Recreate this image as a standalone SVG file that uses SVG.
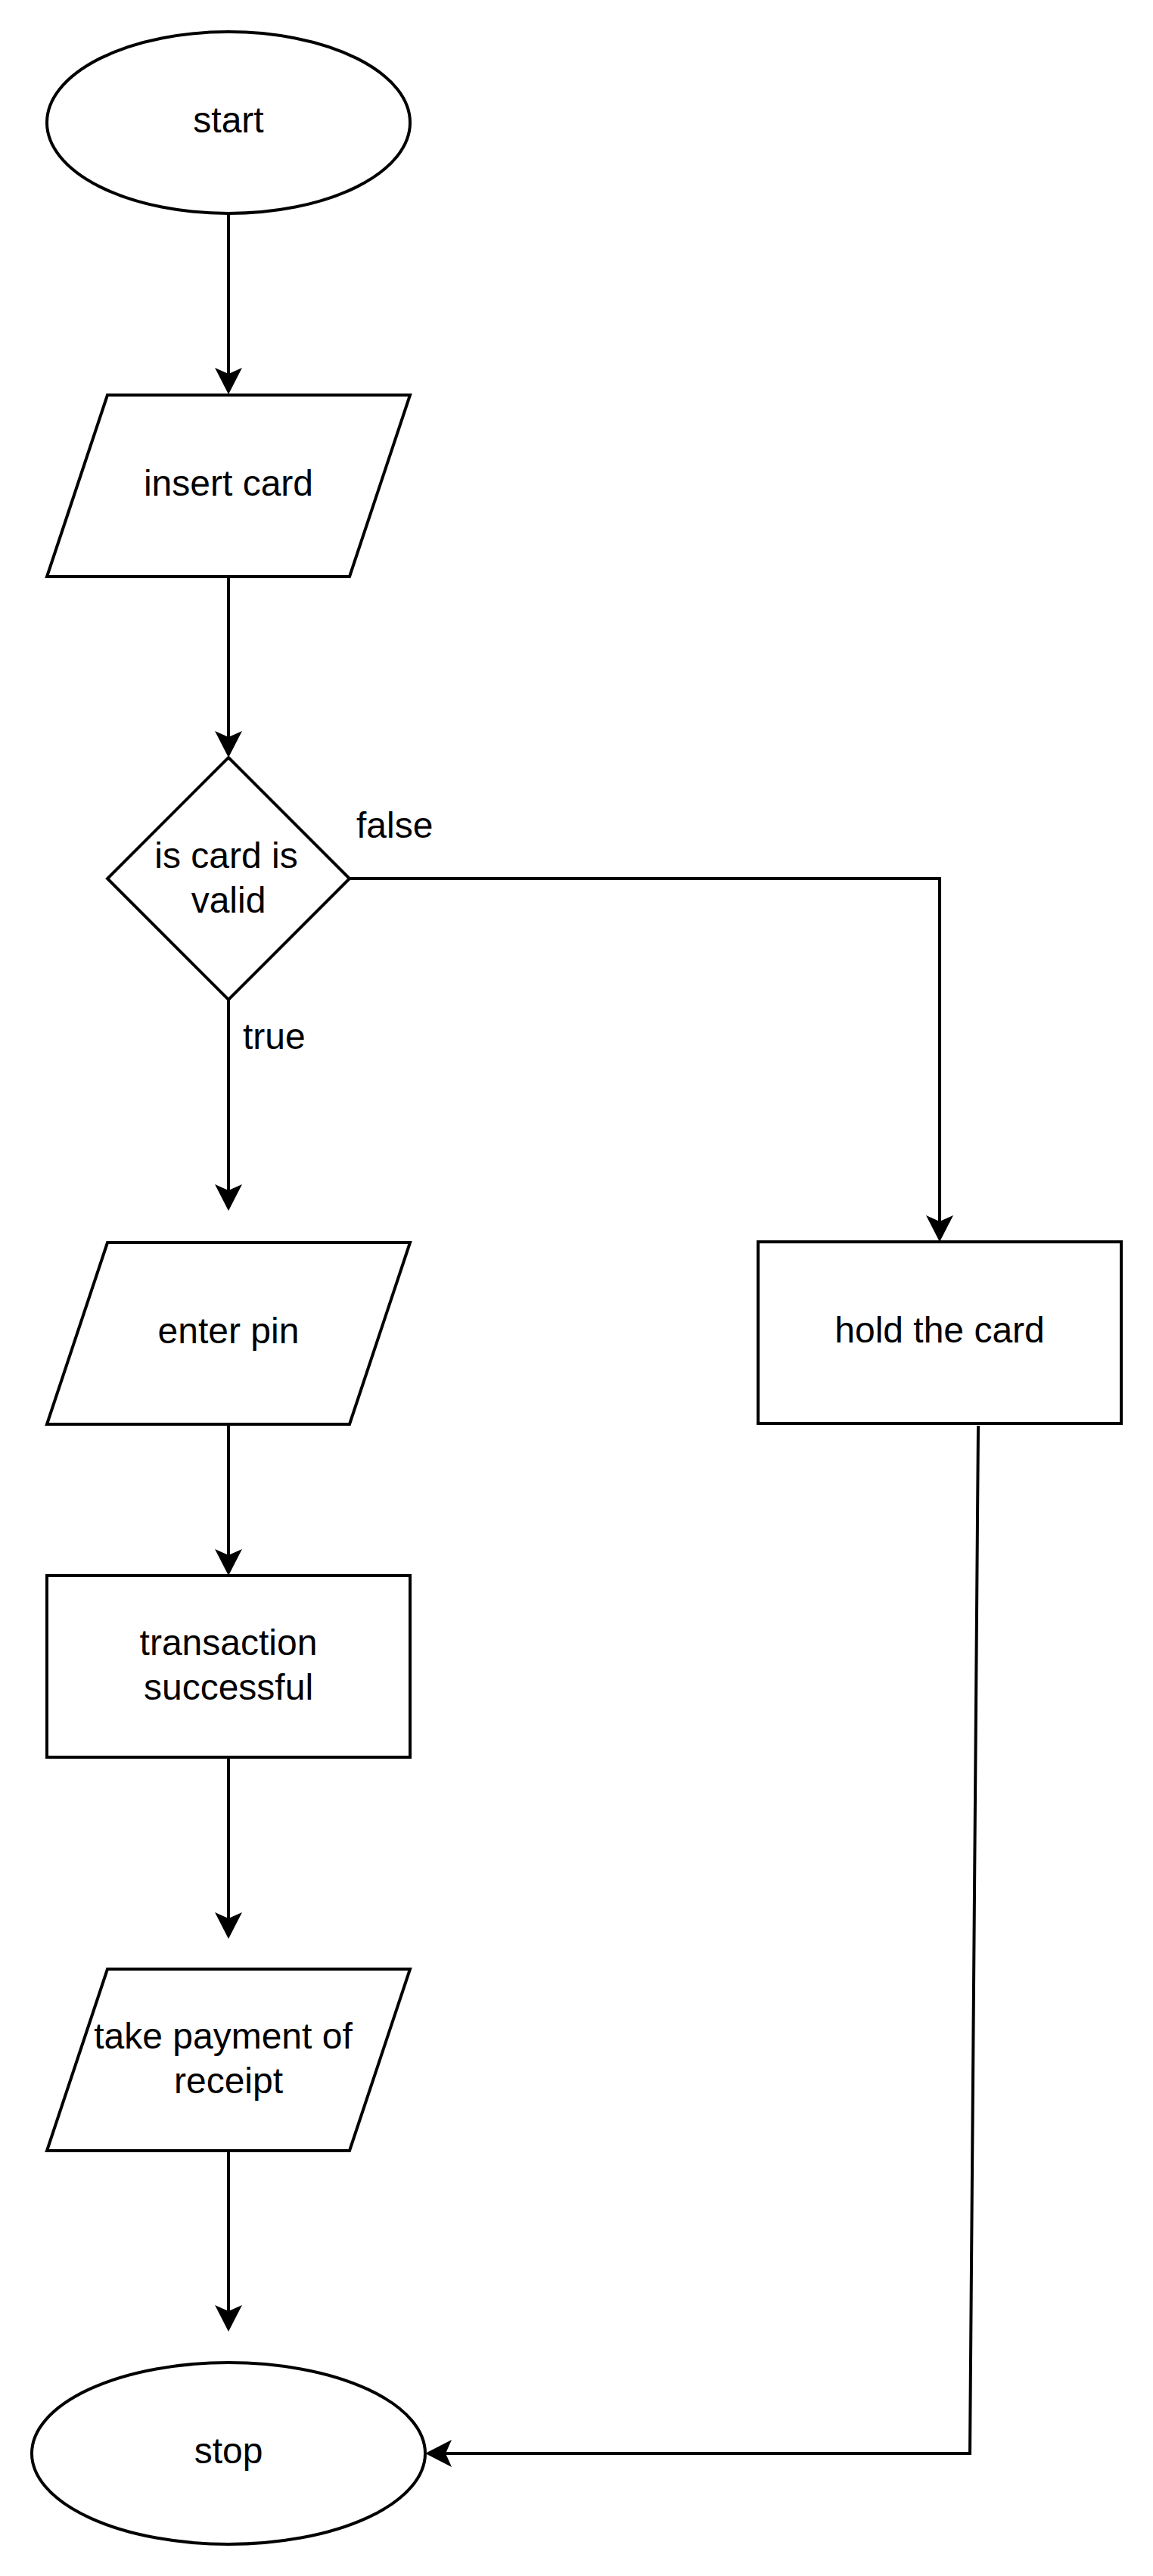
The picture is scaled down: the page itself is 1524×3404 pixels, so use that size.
<svg xmlns="http://www.w3.org/2000/svg" width="1524" height="3404" viewBox="0 0 1524 3404">
<style>
.shape{fill:#ffffff;stroke:#000000;stroke-width:4}
.lbl{font-family:"Liberation Sans",Arial,sans-serif;font-size:48px;fill:#000000;text-anchor:middle}
.elbl{font-family:"Liberation Sans",Arial,sans-serif;font-size:48px;fill:#000000}
.conn{fill:none;stroke:#000000;stroke-width:4}
</style>
<defs>
<marker id="arr" markerUnits="userSpaceOnUse" markerWidth="36" markerHeight="36" refX="8" refY="18" orient="auto" overflow="visible">
<path d="M35,18 L0,0 L8,18 L0,36 Z" fill="#000000"/>
</marker>
</defs>
<rect width="1524" height="3404" fill="#ffffff"/>
<g id="connectors">
<path class="conn" d="M302,282 L302,494" marker-end="url(#arr)"/>
<path class="conn" d="M302,762 L302,974" marker-end="url(#arr)"/>
<path class="conn" d="M302,1321 L302,1573" marker-end="url(#arr)"/>
<path class="conn" d="M462,1161 L1242,1161 L1242,1614" marker-end="url(#arr)"/>
<path class="conn" d="M302,1882 L302,2055" marker-end="url(#arr)"/>
<path class="conn" d="M302,2322 L302,2535" marker-end="url(#arr)"/>
<path class="conn" d="M302,2842 L302,3054" marker-end="url(#arr)"/>
<path class="conn" d="M1293,1884 L1282,3242 L589,3242" marker-end="url(#arr)"/>
<text class="elbl" x="471" y="1107">false</text>
<text class="elbl" x="321" y="1386">true</text>
</g>
<g id="start">
<ellipse class="shape" cx="302" cy="162" rx="240" ry="120"/>
<text class="lbl" x="302" y="175">start</text>
</g>
<g id="insert-card">
<path class="shape" d="M142,522 L542,522 L462,762 L62,762 Z"/>
<text class="lbl" x="302" y="655">insert card</text>
</g>
<g id="is-card-valid">
<path class="shape" d="M302,1001 L462,1161 L302,1321 L142,1161 Z"/>
<text class="lbl" x="299" y="1147">is card is</text>
<text class="lbl" x="302" y="1206">valid</text>
</g>
<g id="enter-pin">
<path class="shape" d="M142,1642 L542,1642 L462,1882 L62,1882 Z"/>
<text class="lbl" x="302" y="1775">enter pin</text>
</g>
<g id="hold-card">
<rect class="shape" x="1002" y="1641" width="480" height="240"/>
<text class="lbl" x="1242" y="1774">hold the card</text>
</g>
<g id="transaction">
<rect class="shape" x="62" y="2082" width="480" height="240"/>
<text class="lbl" x="302" y="2187">transaction</text>
<text class="lbl" x="302" y="2246">successful</text>
</g>
<g id="take-payment">
<path class="shape" d="M142,2602 L542,2602 L462,2842 L62,2842 Z"/>
<text class="lbl" x="295" y="2707">take payment of</text>
<text class="lbl" x="302" y="2766">receipt</text>
</g>
<g id="stop">
<ellipse class="shape" cx="302" cy="3242" rx="260" ry="120"/>
<text class="lbl" x="302" y="3255">stop</text>
</g>
</svg>
